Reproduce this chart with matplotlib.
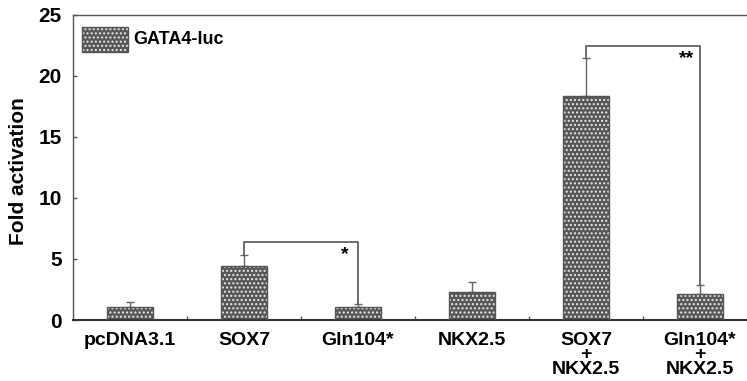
import matplotlib
matplotlib.use("Agg")
import matplotlib.pyplot as plt
from matplotlib.patches import Rectangle

plt.rcParams['font.family'] = ['Liberation Sans', 'DejaVu Sans']
plt.rcParams['font.weight'] = 'bold'
plt.rcParams['hatch.linewidth'] = 1.0

categories = ["pcDNA3.1", "SOX7", "Gln104*", "NKX2.5", "SOX7\n+\nNKX2.5", "Gln104*\n+\nNKX2.5"]
values = [1.05, 4.4, 1.05, 2.3, 18.4, 2.1]
errors = [0.45, 0.9, 0.3, 0.8, 3.05, 0.75]
yticks = [0, 5, 10, 15, 20, 25]
legend_label = "GATA4-luc"
ylabel = "Fold activation"
sig = [(1, 2, 6.4, "*"), (4, 5, 22.5, "**")]

DPI = 100
fig = plt.figure(figsize=(7.47, 3.81), dpi=DPI)
ax = fig.add_axes([73/747, 1-320/381, 684/747, 305/381])
x = list(range(len(categories)))
w = 0.4
face = '#575757'
hatch = '....'
ax.bar(x, values, w, color=face, edgecolor='#e8e8e8', hatch=hatch, linewidth=0, zorder=2)
ax.bar(x, values, w, fill=False, edgecolor='#555555', linewidth=1.0, zorder=3)
ax.errorbar(x, values, yerr=[[0]*len(x), errors], fmt='none', ecolor='#666666',
            elinewidth=1.0, capsize=3, capthick=1.0, zorder=1)

for i, j, h, s in sig:
    ax.plot([i, i, j, j], [values[i] + errors[i], h, h, values[j] + errors[j]],
            color='#555555', lw=1.2, zorder=1)
    ax.text(j - 0.12, h - 0.35, s, ha='center', va='top', fontsize=14, fontweight='bold')

ax.set_xlim(-0.5, len(categories) - 0.5)
ax.set_ylim(0, 25)
ax.set_yticks(yticks)
ax.set_yticklabels([str(t) for t in yticks], fontsize=15, fontweight='bold')
ax.set_xticks([i + 0.5 for i in range(len(categories) - 1)])
ax.set_xticklabels([])
ax.tick_params(axis='both', direction='in', length=3, color='#555555', width=1)
ax.tick_params(axis='y', pad=8)

# category labels (single multi-line text each)
for i, c in enumerate(categories):
    ax.annotate(c, xy=(i, 0), xycoords=('data', 'axes fraction'),
                xytext=(0, -12 * 72 / DPI), textcoords='offset points',
                ha='center', va='top', fontsize=14, fontweight='bold',
                linespacing=0.8, multialignment='center', annotation_clip=False)

for sp in ['left', 'top', 'right']:
    ax.spines[sp].set_color('#555555')
    ax.spines[sp].set_linewidth(1.0)
ax.spines['bottom'].set_color('#333333')
ax.spines['bottom'].set_linewidth(1.5)
ax.set_ylabel(ylabel, fontsize=15, fontweight='bold', va='center')
ax.yaxis.set_label_coords(19/747, 1 - 171/381, transform=fig.transFigure)

# legend
ax.add_patch(Rectangle((-0.42, 22.0), 0.4, 2.0, facecolor=face, edgecolor='#e8e8e8',
                       hatch=hatch, linewidth=0, zorder=2))
ax.add_patch(Rectangle((-0.42, 22.0), 0.4, 2.0, fill=False, edgecolor='#555555',
                       linewidth=1.0, zorder=3))
ax.text(0.03, 23.0, legend_label, ha='left', va='center', fontsize=13, fontweight='bold')

fig.savefig("out.png", dpi=DPI)
